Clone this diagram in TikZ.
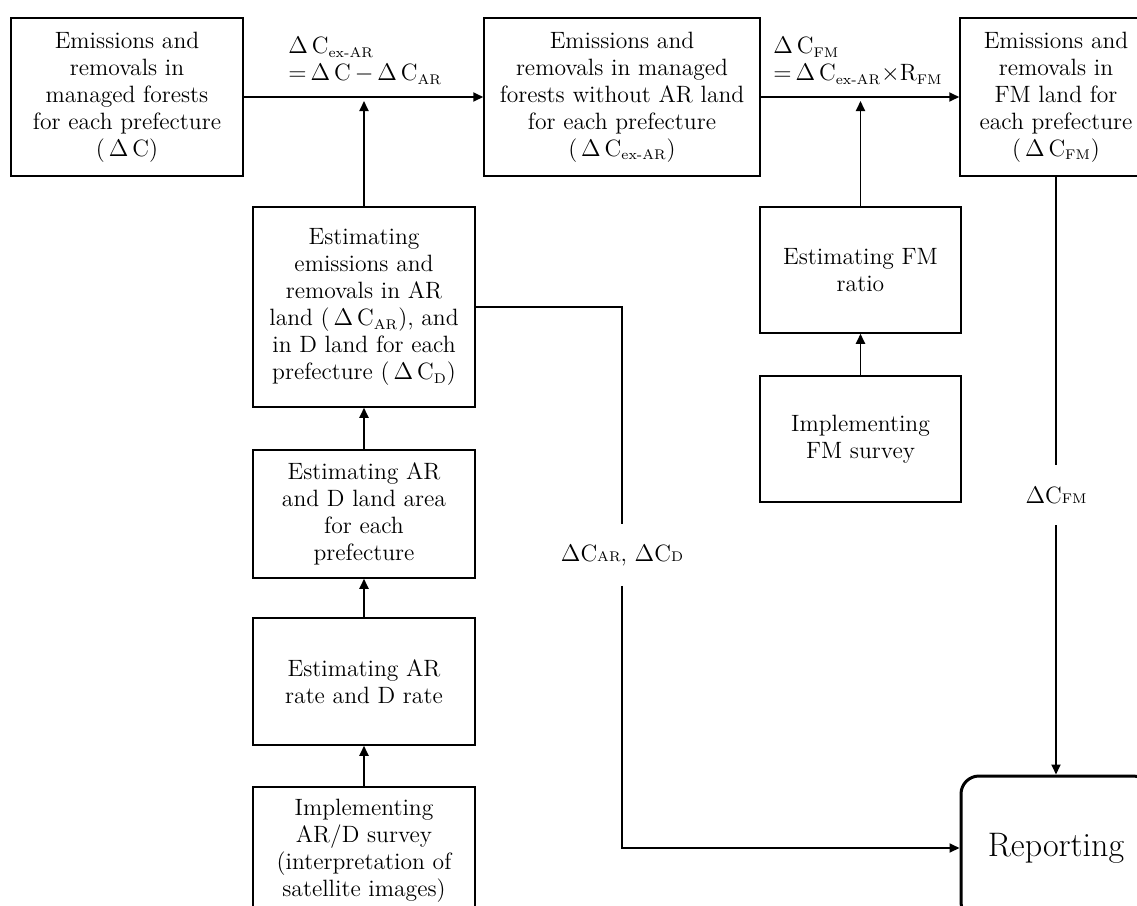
\documentclass[tikz,border=0pt]{standalone}
\usetikzlibrary{arrows.meta}
% Delta C as printed in the flow chart, and the two kinds of subscript
\newcommand{\dC}{$\Delta$\,C}
\newcommand{\lsub}[1]{$_{\hbox{\scriptsize #1}}$}
\newcommand{\ssub}[1]{{\scriptsize #1}}
\begin{document}
\begin{tikzpicture}[x=0.5pt,y=-0.5pt,
  font=\fontsize{11.8}{13.5}\selectfont,
  box/.style={draw, line width=0.75pt, align=center, inner sep=0pt},
  flow/.style={line width=0.9pt, -{Triangle[length=5pt,width=4.5pt]}},
  plain/.style={line width=0.9pt},
  eqlabel/.style={anchor=west, align=left, inner sep=0pt},
  gaplabel/.style={inner sep=0pt}]
\useasboundingbox (0,0) rectangle (1137,906);
\fill[white] (0,0) rectangle (1137,906);
\clip (0,0) rectangle (1137,906);

% top row
\node[box, minimum width=116pt, minimum height=79pt] (mf) at (127,97)
  {Emissions and\\removals in\\managed forests\\for each prefecture\\(\,\dC)};
\node[box, minimum width=138pt, minimum height=79pt] (exar) at (622,97)
  {Emissions and\\removals in managed\\forests without AR land\\for each prefecture\\(\,\dC\lsub{ex-AR})};
\node[box, minimum width=96pt, minimum height=79pt] (fml) at (1056,97)
  {Emissions and\\removals in\\FM land for\\each prefecture\\(\,\dC\lsub{FM})};

% AR / D column
\node[box, minimum width=111pt, minimum height=100pt] (arest) at (364,307)
  {Estimating\\emissions and\\removals in AR\\land (\,\dC\lsub{AR}), and\\in D land for each\\prefecture (\,\dC\lsub{D})};
\node[box, minimum width=111pt, minimum height=64pt] (area) at (364,514)
  {Estimating AR\\and D land area\\for each\\prefecture};
\node[box, minimum width=111pt, minimum height=63.5pt] (rate) at (364,681.5)
  {Estimating AR\\rate and D rate};
\node[box, minimum width=111pt, minimum height=64pt] (ardsurv) at (364,851)
  {Implementing\\AR/D survey\\(interpretation of\\satellite images)};

% FM column
\node[box, minimum width=100.5pt, minimum height=63pt] (fmratio) at (860.5,270)
  {Estimating FM\\ratio};
\node[box, minimum width=100.5pt, minimum height=63pt] (fmsurv) at (860.5,439)
  {Implementing\\FM survey};

% reporting
\node[draw, line width=1.5pt, rounded corners=9pt, minimum width=95pt, minimum height=72pt,
  font=\fontsize{17}{20}\selectfont] (rep) at (1056,848) {Reporting};

% formulas on the top arrows
\node[eqlabel] (eqex) at (288,61)
  {\dC\lsub{ex-AR}\\$=$\,\dC$\,-\,$\dC\lsub{AR}};
\node[eqlabel] (eqfm) at (773,61)
  {\dC\lsub{FM}\\$=$\,\dC\lsub{ex-AR}$\times$R\lsub{FM}};

% labels that interrupt the reporting lines
\node[gaplabel, minimum height=30.5pt] (dcard) at (622,555)
  {$\Delta$C\ssub{AR}, $\Delta$C\ssub{D}};
\node[gaplabel, minimum height=30pt] (dcfm) at (1056,495)
  {$\Delta$C\ssub{FM}};

% connectors
\draw[flow] (mf.east) -- (exar.west);
\draw[flow] (exar.east) -- (fml.west);
\draw[flow, shorten >=2pt] (arest.north) -- (arest.north |- mf.east);
\draw[flow, shorten >=2pt] (fmratio.north) -- (fmratio.north |- exar.east);
\draw[flow] (area.north) -- (arest.south);
\draw[flow] (rate.north) -- (area.south);
\draw[flow] (ardsurv.north) -- (rate.south);
\draw[flow] (fmsurv.north) -- (fmratio.south);
\draw[plain] (arest.east) -| (dcard.north);
\draw[flow] (dcard.south) |- (rep.west);
\draw[plain] (fml.south) -- (dcfm.north);
\draw[flow] (dcfm.south) -- (rep.north);
\end{tikzpicture}
\end{document}
